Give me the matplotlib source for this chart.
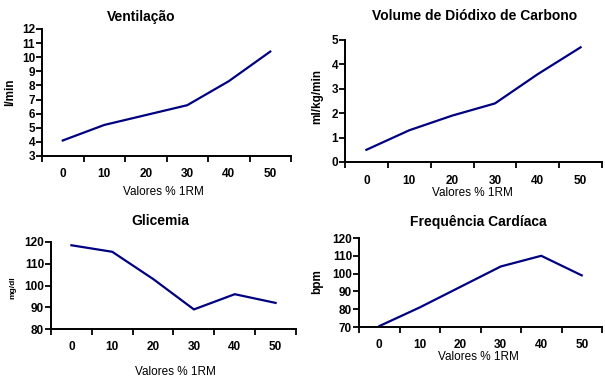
import matplotlib
matplotlib.use("Agg")
import matplotlib.pyplot as plt

plt.rcParams['font.family'] = ['Liberation Sans', 'DejaVu Sans']

categories = ["0", "10", "20", "30", "40", "50"]

vent_vals = [4.1, 5.2, 5.9, 6.6, 8.3, 10.4]
co2_vals = [0.5, 1.3, 1.9, 2.4, 3.6, 4.7]
glic_vals = [118.5, 115.5, 103, 89, 96, 92]
fc_vals = [70.5, 81, 92.5, 104, 110, 99]

vent_ticks = list(range(3, 13))
co2_ticks = list(range(0, 6))
glic_ticks = [80, 90, 100, 110, 120]
fc_ticks = [70, 80, 90, 100, 110, 120]

W, H = 605, 380
fig = plt.figure(figsize=(W / 100, H / 100), dpi=100)
fig.patch.set_facecolor("white")

LINE = "#000080"


def px_axes(l, t, r, b):
    return fig.add_axes([l / W, 1 - b / H, (r - l) / W, (b - t) / H])


def panel(box, vals, yticks, title, tpos, xlpos, ylabel, ylpos, ylsize=8.5):
    ax = px_axes(*box)
    x = list(range(len(categories)))
    ax.plot(x, vals, color=LINE, lw=1.6, solid_joinstyle="miter")
    ax.set_xlim(-0.5, len(categories) - 0.5)
    ax.set_ylim(yticks[0], yticks[-1])
    ax.set_yticks(yticks)
    ax.set_yticklabels([str(v) for v in yticks], fontsize=8.5, fontweight="bold")
    # category boundaries as tick marks, labels centred on categories
    ax.set_xticks([i - 0.5 for i in range(len(categories) + 1)])
    ax.set_xticklabels([])
    ax.set_xticks(x, minor=True)
    ax.set_xticklabels(categories, minor=True, fontsize=8.5, fontweight="bold")
    ax.tick_params(axis="x", which="minor", length=0, pad=9)
    ax.tick_params(axis="x", which="major", length=4, width=1.3, direction="out")
    ax.tick_params(axis="y", length=4, width=1.3, direction="out", pad=1)
    for s in ("top", "right"):
        ax.spines[s].set_visible(False)
    for s in ("left", "bottom"):
        ax.spines[s].set_linewidth(1.4)
    ax.patch.set_alpha(0)
    fig.text(tpos[0] / W, 1 - tpos[1] / H, title, ha="center", va="center",
             fontsize=10, fontweight="bold")
    fig.text(xlpos[0] / W, 1 - xlpos[1] / H, "Valores % 1RM", ha="center",
             va="center", fontsize=8.5)
    fig.text(ylpos[0] / W, 1 - ylpos[1] / H, ylabel, ha="center", va="center",
             rotation=90, fontsize=ylsize, fontweight="bold")
    return ax


panel((42, 29, 291, 156), vent_vals, vent_ticks, "Ventilação", (141, 17),
      (163, 192), "l/min", (10, 92))
panel((345, 40, 602, 162), co2_vals, co2_ticks, "Volume de Diódixo de Carbono",
      (475, 16), (472, 193), "ml/kg/min", (317, 97))
panel((51, 242, 296, 329), glic_vals, glic_ticks, "Glicemia", (160, 221),
      (175, 372), "mg/dl", (13, 288), ylsize=6)
panel((359, 238, 602, 327), fc_vals, fc_ticks, "Frequência Cardíaca", (478, 222),
      (478, 357), "bpm", (317, 282))

fig.savefig("out.png", dpi=100, facecolor="white")
